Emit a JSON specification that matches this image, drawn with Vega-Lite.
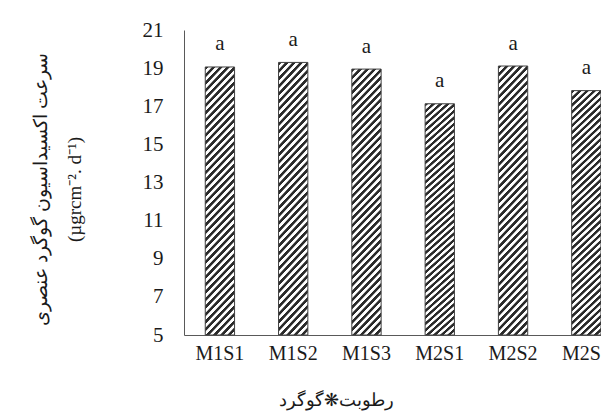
{
  "$schema": "https://vega.github.io/schema/vega-lite/v6.json",
  "autosize": {"type": "none"},
  "padding": {"left": 184, "top": 30, "right": 0, "bottom": 77},
  "width": 417,
  "height": 305,
  "background": "#ffffff",
  "config": {"view": {"stroke": null}},
  "data": {"values": [
    {"t": "M1S1", "v": 19.06, "sig": "a"},
    {"t": "M1S2", "v": 19.30, "sig": "a"},
    {"t": "M1S3", "v": 18.95, "sig": "a"},
    {"t": "M2S1", "v": 17.13, "sig": "a"},
    {"t": "M2S2", "v": 19.11, "sig": "a"},
    {"t": "M2S3", "v": 17.82, "sig": "a"}
  ]},
  "encoding": {
    "x": {"field": "t", "type": "nominal", "sort": null,
      "scale": {"paddingInner": 0.6, "paddingOuter": 0.145, "align": 1},
      "axis": {"title": "رطوبت❋گوگرد", "labelAngle": 0, "ticks": false, "domainColor": "#595959", "domainWidth": 1,
        "labelFont": "Liberation Serif", "labelFontSize": 20, "labelColor": "#1a1a1a", "labelPadding": 8,
        "titleFont": "Liberation Serif", "titleFontSize": 18, "titleFontWeight": "normal", "titleColor": "#1a1a1a",
        "titleX": 152, "titlePadding": 28, "titleAnchor": "middle", "titleAlign": "center"}},
    "y": {"field": "v", "type": "quantitative",
      "scale": {"domain": [5, 21], "nice": false, "zero": false},
      "axis": {"values": [5, 7, 9, 11, 13, 15, 17, 19, 21], "grid": false, "ticks": false, "domainColor": "#595959", "domainWidth": 1,
        "labelFont": "Liberation Serif", "labelFontSize": 21, "labelColor": "#1a1a1a", "labelPadding": 21,
        "title": ["سرعت اکسیداسیون گوگرد عنصری", "(µgrcm⁻². d⁻¹)"],
        "titleFont": "Liberation Serif", "titleFontSize": 19, "titleFontWeight": "normal", "titleColor": "#1a1a1a",
        "titleLineHeight": 34, "titleX": -134, "titleY": 159}}
  },
  "layer": [
    {"mark": {"type": "bar", "stroke": "#404040", "strokeWidth": 1,
      "fill": {"gradient": "linear", "x1": 0, "y1": 0, "x2": 0.1254, "y2": 1.1, "stops": [
        {"offset": 0, "color": "#2a2a2a"}, {"offset": 0.01, "color": "#2a2a2a"}, {"offset": 0.0125, "color": "#ffffff"}, {"offset": 0.0225, "color": "#ffffff"},
        {"offset": 0.025, "color": "#2a2a2a"}, {"offset": 0.035, "color": "#2a2a2a"}, {"offset": 0.0375, "color": "#ffffff"}, {"offset": 0.0475, "color": "#ffffff"},
        {"offset": 0.05, "color": "#2a2a2a"}, {"offset": 0.06, "color": "#2a2a2a"}, {"offset": 0.0625, "color": "#ffffff"}, {"offset": 0.0725, "color": "#ffffff"},
        {"offset": 0.075, "color": "#2a2a2a"}, {"offset": 0.085, "color": "#2a2a2a"}, {"offset": 0.0875, "color": "#ffffff"}, {"offset": 0.0975, "color": "#ffffff"},
        {"offset": 0.1, "color": "#2a2a2a"}, {"offset": 0.11, "color": "#2a2a2a"}, {"offset": 0.1125, "color": "#ffffff"}, {"offset": 0.1225, "color": "#ffffff"},
        {"offset": 0.125, "color": "#2a2a2a"}, {"offset": 0.135, "color": "#2a2a2a"}, {"offset": 0.1375, "color": "#ffffff"}, {"offset": 0.1475, "color": "#ffffff"},
        {"offset": 0.15, "color": "#2a2a2a"}, {"offset": 0.16, "color": "#2a2a2a"}, {"offset": 0.1625, "color": "#ffffff"}, {"offset": 0.1725, "color": "#ffffff"},
        {"offset": 0.175, "color": "#2a2a2a"}, {"offset": 0.185, "color": "#2a2a2a"}, {"offset": 0.1875, "color": "#ffffff"}, {"offset": 0.1975, "color": "#ffffff"},
        {"offset": 0.2, "color": "#2a2a2a"}, {"offset": 0.21, "color": "#2a2a2a"}, {"offset": 0.2125, "color": "#ffffff"}, {"offset": 0.2225, "color": "#ffffff"},
        {"offset": 0.225, "color": "#2a2a2a"}, {"offset": 0.235, "color": "#2a2a2a"}, {"offset": 0.2375, "color": "#ffffff"}, {"offset": 0.2475, "color": "#ffffff"},
        {"offset": 0.25, "color": "#2a2a2a"}, {"offset": 0.26, "color": "#2a2a2a"}, {"offset": 0.2625, "color": "#ffffff"}, {"offset": 0.2725, "color": "#ffffff"},
        {"offset": 0.275, "color": "#2a2a2a"}, {"offset": 0.285, "color": "#2a2a2a"}, {"offset": 0.2875, "color": "#ffffff"}, {"offset": 0.2975, "color": "#ffffff"},
        {"offset": 0.3, "color": "#2a2a2a"}, {"offset": 0.31, "color": "#2a2a2a"}, {"offset": 0.3125, "color": "#ffffff"}, {"offset": 0.3225, "color": "#ffffff"},
        {"offset": 0.325, "color": "#2a2a2a"}, {"offset": 0.335, "color": "#2a2a2a"}, {"offset": 0.3375, "color": "#ffffff"}, {"offset": 0.3475, "color": "#ffffff"},
        {"offset": 0.35, "color": "#2a2a2a"}, {"offset": 0.36, "color": "#2a2a2a"}, {"offset": 0.3625, "color": "#ffffff"}, {"offset": 0.3725, "color": "#ffffff"},
        {"offset": 0.375, "color": "#2a2a2a"}, {"offset": 0.385, "color": "#2a2a2a"}, {"offset": 0.3875, "color": "#ffffff"}, {"offset": 0.3975, "color": "#ffffff"},
        {"offset": 0.4, "color": "#2a2a2a"}, {"offset": 0.41, "color": "#2a2a2a"}, {"offset": 0.4125, "color": "#ffffff"}, {"offset": 0.4225, "color": "#ffffff"},
        {"offset": 0.425, "color": "#2a2a2a"}, {"offset": 0.435, "color": "#2a2a2a"}, {"offset": 0.4375, "color": "#ffffff"}, {"offset": 0.4475, "color": "#ffffff"},
        {"offset": 0.45, "color": "#2a2a2a"}, {"offset": 0.46, "color": "#2a2a2a"}, {"offset": 0.4625, "color": "#ffffff"}, {"offset": 0.4725, "color": "#ffffff"},
        {"offset": 0.475, "color": "#2a2a2a"}, {"offset": 0.485, "color": "#2a2a2a"}, {"offset": 0.4875, "color": "#ffffff"}, {"offset": 0.4975, "color": "#ffffff"},
        {"offset": 0.5, "color": "#2a2a2a"}, {"offset": 0.51, "color": "#2a2a2a"}, {"offset": 0.5125, "color": "#ffffff"}, {"offset": 0.5225, "color": "#ffffff"},
        {"offset": 0.525, "color": "#2a2a2a"}, {"offset": 0.535, "color": "#2a2a2a"}, {"offset": 0.5375, "color": "#ffffff"}, {"offset": 0.5475, "color": "#ffffff"},
        {"offset": 0.55, "color": "#2a2a2a"}, {"offset": 0.56, "color": "#2a2a2a"}, {"offset": 0.5625, "color": "#ffffff"}, {"offset": 0.5725, "color": "#ffffff"},
        {"offset": 0.575, "color": "#2a2a2a"}, {"offset": 0.585, "color": "#2a2a2a"}, {"offset": 0.5875, "color": "#ffffff"}, {"offset": 0.5975, "color": "#ffffff"},
        {"offset": 0.6, "color": "#2a2a2a"}, {"offset": 0.61, "color": "#2a2a2a"}, {"offset": 0.6125, "color": "#ffffff"}, {"offset": 0.6225, "color": "#ffffff"},
        {"offset": 0.625, "color": "#2a2a2a"}, {"offset": 0.635, "color": "#2a2a2a"}, {"offset": 0.6375, "color": "#ffffff"}, {"offset": 0.6475, "color": "#ffffff"},
        {"offset": 0.65, "color": "#2a2a2a"}, {"offset": 0.66, "color": "#2a2a2a"}, {"offset": 0.6625, "color": "#ffffff"}, {"offset": 0.6725, "color": "#ffffff"},
        {"offset": 0.675, "color": "#2a2a2a"}, {"offset": 0.685, "color": "#2a2a2a"}, {"offset": 0.6875, "color": "#ffffff"}, {"offset": 0.6975, "color": "#ffffff"},
        {"offset": 0.7, "color": "#2a2a2a"}, {"offset": 0.71, "color": "#2a2a2a"}, {"offset": 0.7125, "color": "#ffffff"}, {"offset": 0.7225, "color": "#ffffff"},
        {"offset": 0.725, "color": "#2a2a2a"}, {"offset": 0.735, "color": "#2a2a2a"}, {"offset": 0.7375, "color": "#ffffff"}, {"offset": 0.7475, "color": "#ffffff"},
        {"offset": 0.75, "color": "#2a2a2a"}, {"offset": 0.76, "color": "#2a2a2a"}, {"offset": 0.7625, "color": "#ffffff"}, {"offset": 0.7725, "color": "#ffffff"},
        {"offset": 0.775, "color": "#2a2a2a"}, {"offset": 0.785, "color": "#2a2a2a"}, {"offset": 0.7875, "color": "#ffffff"}, {"offset": 0.7975, "color": "#ffffff"},
        {"offset": 0.8, "color": "#2a2a2a"}, {"offset": 0.81, "color": "#2a2a2a"}, {"offset": 0.8125, "color": "#ffffff"}, {"offset": 0.8225, "color": "#ffffff"},
        {"offset": 0.825, "color": "#2a2a2a"}, {"offset": 0.835, "color": "#2a2a2a"}, {"offset": 0.8375, "color": "#ffffff"}, {"offset": 0.8475, "color": "#ffffff"},
        {"offset": 0.85, "color": "#2a2a2a"}, {"offset": 0.86, "color": "#2a2a2a"}, {"offset": 0.8625, "color": "#ffffff"}, {"offset": 0.8725, "color": "#ffffff"},
        {"offset": 0.875, "color": "#2a2a2a"}, {"offset": 0.885, "color": "#2a2a2a"}, {"offset": 0.8875, "color": "#ffffff"}, {"offset": 0.8975, "color": "#ffffff"},
        {"offset": 0.9, "color": "#2a2a2a"}, {"offset": 0.91, "color": "#2a2a2a"}, {"offset": 0.9125, "color": "#ffffff"}, {"offset": 0.9225, "color": "#ffffff"},
        {"offset": 0.925, "color": "#2a2a2a"}, {"offset": 0.935, "color": "#2a2a2a"}, {"offset": 0.9375, "color": "#ffffff"}, {"offset": 0.9475, "color": "#ffffff"},
        {"offset": 0.95, "color": "#2a2a2a"}, {"offset": 0.96, "color": "#2a2a2a"}, {"offset": 0.9625, "color": "#ffffff"}, {"offset": 0.9725, "color": "#ffffff"},
        {"offset": 0.975, "color": "#2a2a2a"}, {"offset": 0.985, "color": "#2a2a2a"}, {"offset": 0.9875, "color": "#ffffff"}, {"offset": 0.9975, "color": "#ffffff"},
        {"offset": 1, "color": "#2a2a2a"}
      ]}},
      "encoding": {"y2": {"datum": 5}}},
    {"mark": {"type": "text", "font": "Liberation Serif", "fontSize": 21, "color": "#1a1a1a", "baseline": "alphabetic", "dy": -16.5},
      "encoding": {"text": {"field": "sig"}}}
  ]
}
